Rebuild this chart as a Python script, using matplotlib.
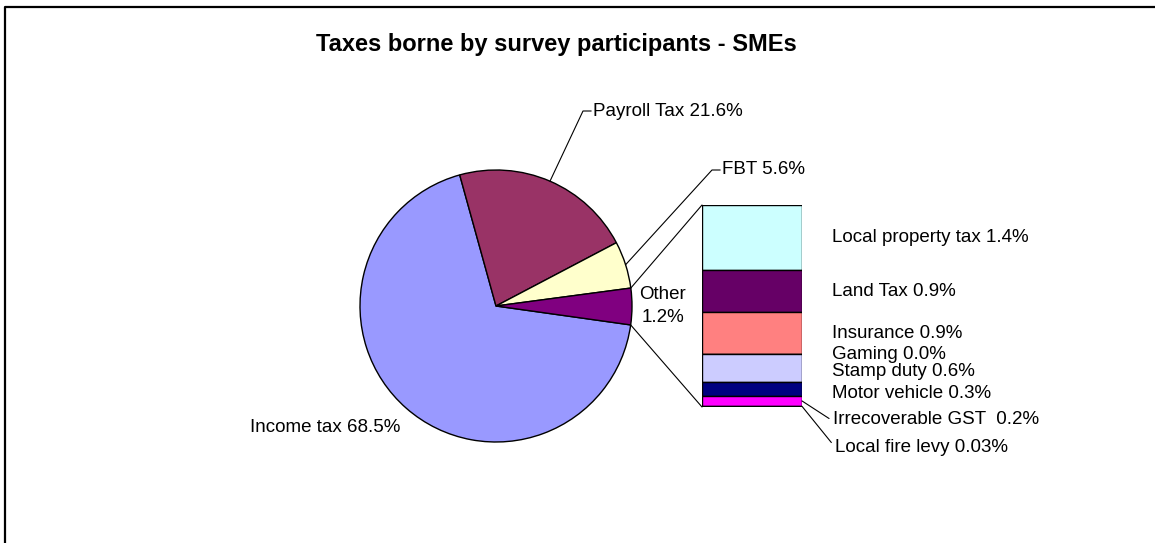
import numpy as np
import matplotlib.pyplot as plt
from matplotlib.patches import ConnectionPatch

plt.rcParams['font.family'] = ['Liberation Sans', 'DejaVu Sans']

# main pie
pie_labels = ['Income tax', 'Payroll Tax', 'FBT', 'Other']
pie_shares = [68.5, 21.6, 5.6]
pie_colors = ['#9999FF', '#993366', '#FFFFCC', '#800080']
other_label = 'Other\n1.2%'

# breakdown of the "Other" slice
bar_labels = ['Local property tax', 'Land Tax', 'Insurance', 'Gaming',
              'Stamp duty', 'Motor vehicle', 'Irrecoverable GST ', 'Local fire levy']
bar_shares = [1.4, 0.9, 0.9, 0.0, 0.6, 0.3, 0.2, 0.03]
bar_texts = ['1.4%', '0.9%', '0.9%', '0.0%', '0.6%', '0.3%', '0.2%', '0.03%']
bar_colors = ['#CCFFFF', '#660066', '#FF8080', '#0066CC',
              '#CCCCFF', '#000080', '#FF00FF', '#FFFF00']

W, H = 1155, 543
fig = plt.figure(figsize=(W / 100, H / 100), dpi=100)
ax = fig.add_axes([0, 0, 1, 1])

other_total = sum(bar_shares)
shares = pie_shares + [other_total]
wedges, _ = ax.pie(shares, colors=pie_colors, startangle=-8, counterclock=False,
                   center=(496, H - 306), radius=136,
                   wedgeprops=dict(edgecolor='black', linewidth=1))
ax.set_xlim(0, W)
ax.set_ylim(0, H)
ax.set_aspect('auto')
ax.axis('off')

fs = 13.5


def edge_point(w, ang=None):
    if ang is None:
        ang = (w.theta1 + w.theta2) / 2
    cx, cy = w.center
    return cx + w.r * np.cos(np.radians(ang)), cy + w.r * np.sin(np.radians(ang))


# pie labels with leader lines
for w, lab, val, elbow in [(wedges[1], pie_labels[1], pie_shares[1], (583, H - 111)),
                           (wedges[2], pie_labels[2], pie_shares[2], (712, H - 170))]:
    px, py = edge_point(w)
    ax.plot([px, elbow[0], elbow[0] + 8], [py, elbow[1], elbow[1]], color='black', lw=0.8)
    ax.text(elbow[0] + 10, elbow[1], f'{lab} {val}%', fontsize=fs, va='center', ha='left')

ax.text(325, H - 427, f'{pie_labels[0]} {pie_shares[0]}%', fontsize=fs, va='center', ha='center')
ax.text(663, H - 306, other_label, fontsize=fs, va='center', ha='center', linespacing=1.45)

# stacked bar for the "Other" slice
bax = fig.add_axes([702 / W, (H - 407) / H, 100 / W, 202 / H])
bottoms = np.concatenate([[0], np.cumsum(bar_shares)[:-1]])
bax.bar(0.5, bar_shares, bottom=bottoms, width=1, color=bar_colors,
        edgecolor='black', linewidth=1)
bax.set_xlim(0, 1)
bax.set_ylim(other_total, 0)
bax.axis('off')

trans = bax.get_yaxis_transform()
y_nudge = {'Stamp duty': 0.07, 'Motor vehicle': 0.08}
for lab, txt, b, v in zip(bar_labels[:6], bar_texts[:6], bottoms[:6], bar_shares[:6]):
    y = b + v / 2 + y_nudge.get(lab, 0)
    bax.text(1.3, y, f'{lab} {txt}', transform=trans, fontsize=fs, va='center', ha='left')

for lab, txt, b, v, off, angb in zip(bar_labels[6:], bar_texts[6:], bottoms[6:], bar_shares[6:],
                                     [(31, -19), (33, -41)], [-33, -51]):
    bax.annotate(f'{lab} {txt}', xy=(1, b + v / 2), xycoords=trans,
                 xytext=off, textcoords='offset pixels', fontsize=fs, va='center', ha='left',
                 arrowprops=dict(arrowstyle='-', color='black', lw=0.8,
                                 shrinkA=1, shrinkB=0, relpos=(0, 0.5),
                                 connectionstyle=f'angle,angleA=0,angleB={angb},rad=0'))

# lines joining the "Other" slice to the bar
ow = wedges[3]
for ang, yb in [(ow.theta2, 1), (ow.theta1, 0)]:
    con = ConnectionPatch(xyA=edge_point(ow, ang), coordsA=ax.transData,
                          xyB=(0, yb), coordsB=bax.transAxes,
                          color='black', lw=0.8)
    fig.add_artist(con)

ax.text(556, H - 45, 'Taxes borne by survey participants - SMEs',
        fontsize=17, fontweight='bold', ha='center', va='center')

# chart area border
ax.plot([5, 5, W + 10], [-10, H - 7, H - 7], color='black', lw=1.6, clip_on=False)

fig.savefig('out.png', dpi=100)
